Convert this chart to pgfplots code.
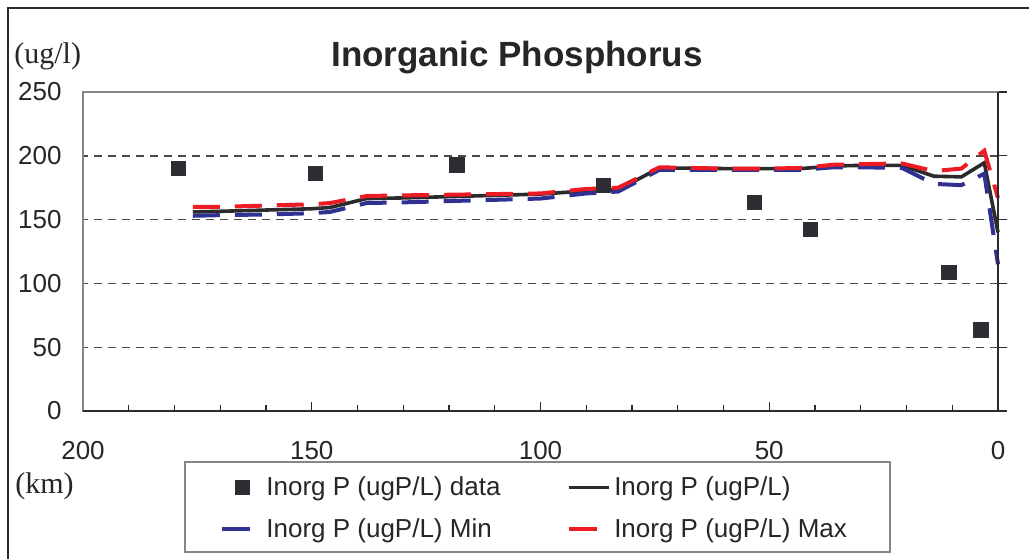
\documentclass[border=0pt]{standalone}
\usepackage{pgfplots}
\pgfplotsset{compat=1.18}
\usepackage{fontspec}
\setmainfont{Liberation Sans}
\newfontfamily\seriffont{Liberation Serif}
\definecolor{cblack}{HTML}{2B2B2B}
\definecolor{cblue}{HTML}{2E3192}
\definecolor{cred}{HTML}{ED1C24}
\definecolor{cgrid}{HTML}{4A4A4A}
\definecolor{cframe}{HTML}{8C8484}
\definecolor{ctext}{HTML}{262626}
\definecolor{cmark}{HTML}{2D2D33}

\pgfplotsset{
  longimg/.style={legend image code/.code={\draw[##1] (0pt,0pt) -- (20pt,0pt);}},
  shortimg/.style={legend image code/.code={\path[draw=none,fill=none] (0pt,0pt) (20pt,0pt);\draw[##1] (0pt,0pt) -- (14pt,0pt);}},
  markimg/.style={legend image code/.code={\path[draw=none,fill=none] (0pt,0pt) (20pt,0pt);\draw[mark repeat=1,mark phase=1,##1] plot coordinates {(10pt,0pt)};}},
}

\pgfplotstableread{
x y
179.2 190
149.2 186
118.3 193
86.3 177
53.3 163.5
41.0 142.5
10.7 108.5
3.7 63.5
}\datatab

\pgfplotstableread{
x y
176 156
170 156.5
160 157.5
150 158.5
146 159.5
138 166.5
130 167
120 168
110 169
100 170
90 172.5
83 173.5
74 190.5
60 190
50 190
43 190
36 192
30 192.5
21 192.5
14 184
8 183.5
3 194.5
0 140
}\modeltab

\pgfplotstableread{
x y
176 153
170 153.5
160 154
150 155
146 156
138 163
130 163.5
120 164.5
110 165.5
100 166.5
90 170.5
83 172
74 189
60 189
50 189
43 189
36 191
30 191
21 190.5
14 178
8 177
3 186
0 115
}\mintab

\pgfplotstableread{
x y
176 160
170 160
160 161
150 162
146 163
138 168.5
130 169
120 169.5
110 170
100 170.5
90 174
83 175
74 191
60 190
50 190
43 190.5
36 193
30 193.5
21 194
14 188
8 190
3 204
0 167
}\maxtab

\begin{document}
\begin{tikzpicture}
\useasboundingbox (-41.5pt,-73.5pt) rectangle (473pt,205.5pt);
\begin{axis}[
  at={(0pt,0pt)}, anchor=south west,
  scale only axis, width=457.5pt, height=159.5pt,
  x dir=reverse,
  xmin=0, xmax=200, ymin=0, ymax=250,
  xtick={0,50,100,150,200}, minor x tick num=4,
  ytick={0,50,100,150,200,250},
  xtick pos=bottom, ytick pos=right, yticklabel pos=left,
  xtick align=inside, ytick align=outside,
  major tick length=4.5pt, minor tick length=3pt,
  tick style={cblack, line width=0.6pt},
  axis line style={cframe, line width=0.6pt},
  ymajorgrids,
  grid style={cgrid, line width=0.7pt, dash pattern=on 4pt off 3pt},
  /pgf/number format/assume math mode=true,
  ticklabel style={font=\fontsize{13}{15}\selectfont, text=ctext},
  yticklabel style={anchor=east, inner sep=0pt, xshift=-6pt},
  xticklabel style={anchor=base, inner sep=0pt, yshift=-24pt},
  clip=false,
  legend columns=2,
  legend style={draw=none, fill=none, inner sep=0pt,
    at={(0.1497,-0.192)}, anchor=north west,
    font=\fontsize{13}{15}\selectfont, text=ctext,
    nodes={inner sep=2pt, text=ctext},
    row sep=6pt,
    /tikz/every even column/.append style={column sep=31pt}},
  legend cell align=left,
]
\addlegendimage{only marks, mark=square*, mark size=3.6pt, mark options={cmark, fill=cmark}, markimg}
\addlegendentry{Inorg P (ugP/L) data}
\addlegendimage{cblack, line width=1.75pt, longimg}
\addlegendentry{Inorg P (ugP/L)}
\addlegendimage{cblue, line width=2pt, shortimg}
\addlegendentry{Inorg P (ugP/L) Min}
\addlegendimage{cred, line width=2pt, shortimg}
\addlegendentry{Inorg P (ugP/L) Max}

\addplot[forget plot, cblack, line width=1.8pt, no markers] table {\modeltab};
\addplot[forget plot, cblue, line width=2pt, no markers, dash pattern=on 13.5pt off 7.5pt] table {\mintab};
\addplot[forget plot, cred, line width=2pt, no markers, dash pattern=on 13.5pt off 7.5pt] table {\maxtab};
\addplot[forget plot, only marks, mark=square*, mark size=3.6pt, mark options={cmark, fill=cmark}] table {\datatab};

\draw[cblack, line width=0.8pt] ([xshift=3.5pt]axis cs:0,0) -- (axis cs:200,0);
\draw[cblack, line width=0.8pt] (axis cs:0,0) -- (axis cs:0,250);
\end{axis}
\draw[cframe, line width=0.6pt] (51pt,-25.5pt) rectangle (403.5pt,-70.5pt);
\draw[cblack, line width=1pt] (-37.5pt,-90pt) -- (-37.5pt,201.5pt) -- (490pt,201.5pt);
\node[font=\bfseries\fontsize{17.5}{20}\selectfont, text=ctext, anchor=base] at (217pt,172pt) {Inorganic Phosphorus};
\node[font=\seriffont\fontsize{15}{17}\selectfont, text=ctext, anchor=base west, inner sep=0pt] at (-34.5pt,173.5pt) {(ug/l)};
\node[font=\seriffont\fontsize{15}{17}\selectfont, text=ctext, anchor=base west, inner sep=0pt] at (-34pt,-41pt) {(km)};
\end{tikzpicture}
\end{document}
